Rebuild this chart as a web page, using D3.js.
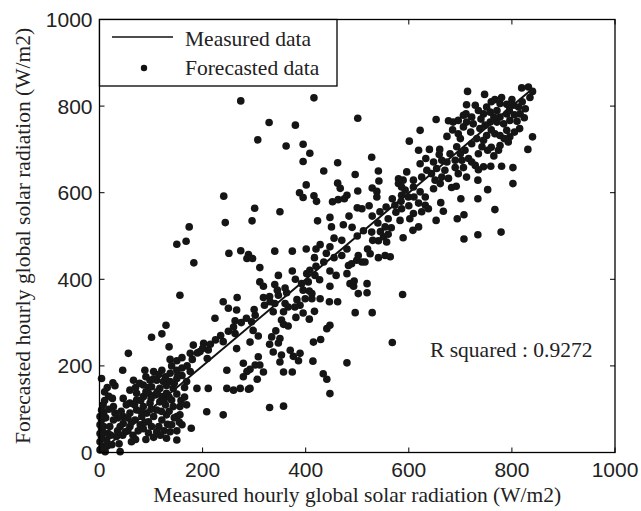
<!DOCTYPE html>
<html>
<head>
<meta charset="utf-8">
<script src="https://cdn.jsdelivr.net/npm/d3@7"></script>
<style>
  body { margin: 0; background: #fff; }
  svg { display: block; }
</style>
</head>
<body>
<svg id="chart"></svg>
<script>
// measured / forecasted hourly global solar radiation (W/m2)
var points = [
  [274,812],[416,819],[501,772],[329,762],[380,756],[307,722],[362,708],[395,712],[408,691],[395,672],
  [528,682],[462,669],[435,650],[541,650],[496,642],[542,627],[401,618],[462,622],[467,610],[388,600],
  [395,589],[416,593],[421,580],[501,604],[529,611],[538,603],[538,590],[580,632],[580,621],[568,586],
  [452,579],[463,584],[480,594],[475,586],[500,565],[509,563],[523,570],[529,546],[544,556],[556,567],
  [573,571],[241,592],[244,531],[301,564],[296,535],[350,556],[447,543],[423,535],[450,521],[473,526],
  [484,546],[512,512],[528,509],[541,489],[551,498],[560,504],[557,486],[554,521],[566,519],[174,521],
  [150,481],[168,488],[183,438],[156,363],[251,460],[274,466],[289,457],[286,448],[401,470],[428,480],
  [447,475],[267,358],
  [819,842],[832,844],[840,834],[714,834],[747,827],[767,815],[777,806],[790,804],[803,802],[813,798],
  [826,794],[816,782],[824,773],[815,748],[840,729],[831,700],[712,803],[729,802],[751,798],[711,782],
  [706,779],[722,775],[745,782],[758,786],[771,790],[777,775],[790,782],[796,767],[784,759],[771,763],
  [758,763],[748,756],[738,748],[725,759],[712,763],[677,766],[686,763],[696,767],[706,752],[696,736],
  [674,730],[653,769],[622,744],[601,719],[767,736],[777,732],[790,744],[796,729],[793,717],[777,709],
  [774,698],[751,732],[745,721],[742,706],[753,698],[732,725],[722,713],[709,698],[693,706],[703,675],
  [716,679],[722,671],[729,663],[735,653],[712,636],[734,629],[753,607],[759,661],[780,661],[802,658],
  [802,621],[767,561],[779,509],[734,503],[707,493],[694,540],[707,549],[701,586],[734,586],[683,612],
  [692,615],[670,652],[674,671],[690,675],[690,658],[706,658],[696,644],[677,633],[664,636],[661,621],
  [648,609],[651,629],[644,644],[654,656],[664,675],[648,671],[640,700],[659,688],[633,679],[619,698],
  [622,667],[635,652],[625,636],[609,629],[596,648],[589,629],[609,613],[622,602],[632,590],[619,576],
  [632,571],[638,563],[625,556],[609,552],[602,540],[619,521],[608,513],[589,496],[653,536],[662,577],
  [667,557],[586,594],[586,563],[593,606],[599,590],[583,536],[586,613],
  [340,465],[374,465],[417,450],[311,427],[297,448],[347,409],[374,419],[402,413],[408,421],[418,409],
  [427,399],[405,394],[392,390],[447,419],[459,409],[447,384],[407,373],[412,367],[395,375],[311,394],
  [318,384],[340,388],[347,363],[318,358],[331,348],[340,344],[363,369],[360,344],[366,336],[383,353],
  [389,340],[399,355],[412,355],[428,355],[446,348],[462,348],[379,336],[395,322],[417,326],[407,308],
  [381,312],[357,325],[337,325],[353,306],[357,296],[366,292],[302,317],[295,302],[298,282],[342,281],
  [334,267],[350,263],[347,253],[330,250],[308,269],[292,255],[308,221],[302,202],[292,192],[311,202],
  [318,186],[306,169],[292,148],[337,232],[353,225],[350,209],[370,236],[376,222],[389,229],[386,212],
  [357,186],[374,186],[414,211],[434,182],[441,169],[447,136],[330,104],[357,107],[415,255],[429,261],
  [441,286],[447,294],[480,207],[496,323],[529,323],[502,367],[519,369],[519,390],[568,254],[588,365],
  [480,413],[486,390],[493,384],[494,396],[483,432],[489,436],[499,444],[509,440],[515,440],[502,455],
  [525,459],[541,450],[554,455],[564,452],
  [240,348],[250,333],[266,329],[224,310],[263,304],[263,275],[240,256],[266,240],[129,294],[121,274],
  [101,266],[135,244],[56,229],[182,248],[202,252],[195,233],[211,237],[176,229],[160,219],[150,212],
  [137,215],[209,217],[45,190],[4,171],[26,161],[30,154],[66,167],[88,190],[105,187],[121,190],
  [137,183],[98,167],[85,156],[101,152],[111,167],[124,164],[117,148],[137,164],[150,171],[169,164],
  [176,187],[143,148],[59,144],[72,137],[46,125],[59,114],[72,121],[85,129],[95,137],[108,133],
  [121,129],[130,137],[140,121],[143,106],[117,117],[98,114],[85,106],[72,98],[59,91],[46,83],
  [30,91],[27,106],[7,110],[4,98],[1,83],[1,64],[1,44],[1,25],[1,6],[7,14],
  [14,29],[17,44],[20,60],[27,75],[40,60],[46,67],[50,48],[33,37],[59,60],[69,75],
  [82,83],[92,91],[79,64],[95,71],[105,83],[111,98],[101,60],[111,48],[121,75],[130,87],
  [150,83],[140,64],[137,48],[156,87],[160,64],[130,33],[150,29],[62,25],[40,2],[11,2],
  [156,106],[169,110],[189,148],[211,148],[178,56],[208,94],[240,87],[247,148],[247,190],[279,175],
  [279,206],[286,187],[260,144],[273,148],[289,146],
  // dense lower-left mass
  [4,10],[4,35],[4,55],[4,75],[8,45],[8,60],[8,90],[10,120],[12,80],[15,15],
  [18,100],[22,40],[24,18],[25,125],[35,50],[36,80],[38,20],[42,95],[45,40],[52,110],
  [55,80],[10,140],[15,150],[18,130],[70,150],[78,160],[90,175],[95,150],[105,170],[115,180],
  [128,175],[130,155],[145,160],[152,180],[160,178],[165,150],[80,120],[90,140],[100,125],[112,140],
  [125,120],[135,128],[150,135],[158,120],[165,128],[55,50],[65,40],[75,50],[85,55],[88,70],
  [95,45],[105,35],[115,60],[120,95],[125,50],[135,95],[145,80],[150,50],[155,70],[118,40],
  [90,30],[70,30],[80,95],[100,100],[62,70],[68,110],[128,110],[132,65],
  // upper-right cluster
  [760,810],[780,820],[800,815],[820,810],[835,820],[795,790],[805,780],[765,775],[735,790],[740,770],
  [760,745],[785,725],[805,740],[810,765],[720,740],[700,725],[685,745],[660,700],[680,690],[700,690],
  [735,690],[760,705],[765,685],[745,660],
  // band along the diagonal
  [420,430],[435,440],[455,450],[470,455],[480,470],[520,470],[530,490],[545,510],[560,540],[575,555],
  [585,580],[600,570],[610,590],[540,530],[500,500],[490,520],[470,490],[455,495],[440,460],[420,470],
  [380,400],[360,380],[345,375],[330,360],[320,340],[300,330],[285,310],[275,300],[260,290],[250,280],
  [235,270],[225,260],[215,250],[200,240],[190,230],[180,215],[170,200],[160,195],[150,190],[140,200]
]
var measured = points.map(function(p) { return p[0] })
var forecasted = points.map(function(p) { return p[1] })

var xTicks = [0, 200, 400, 600, 800, 1000]
var yTicks = [0, 200, 400, 600, 800, 1000]
var legendLabels = ['Measured data', 'Forecasted data']
var xTitle = 'Measured hourly global solar radiation (W/m2)'
var yTitle = 'Forecasted hourly global solar radiation (W/m2)'
var rText = 'R squared : 0.9272'

var width = 641
var height = 511
var plotL = 99.5, plotR = 615, plotT = 19.5, plotB = 452.5
var serif = '"Liberation Serif", "Times New Roman", serif'
var sans = '"Liberation Sans", Arial, sans-serif'

var x = d3.scaleLinear().domain([0, 1000]).range([plotL, plotR])
var y = d3.scaleLinear().domain([0, 1000]).range([plotB, plotT])

var svg = d3.select('#chart')
    .attr('width', width)
    .attr('height', height)

svg.append('rect').attr('width', width).attr('height', height).attr('fill', '#fff')

// ticks inward on all four sides
var tickLen = 5
var axes = svg.append('g').attr('stroke', '#000').attr('stroke-width', 1)
xTicks.forEach(function(t) {
    axes.append('line').attr('x1', x(t)).attr('x2', x(t)).attr('y1', plotB).attr('y2', plotB - tickLen)
    axes.append('line').attr('x1', x(t)).attr('x2', x(t)).attr('y1', plotT).attr('y2', plotT + tickLen)
})
yTicks.forEach(function(t) {
    axes.append('line').attr('x1', plotL).attr('x2', plotL + tickLen).attr('y1', y(t)).attr('y2', y(t))
    axes.append('line').attr('x1', plotR).attr('x2', plotR - tickLen).attr('y1', y(t)).attr('y2', y(t))
})

svg.append('g').selectAll('text')
    .data(xTicks)
    .enter().append('text')
    .attr('x', function(d) { return x(d) })
    .attr('y', plotB + 24)
    .attr('text-anchor', 'middle')
    .attr('font-family', sans)
    .attr('font-size', 21)
    .attr('fill', '#222')
    .text(function(d) { return d })

svg.append('g').selectAll('text')
    .data(yTicks)
    .enter().append('text')
    .attr('x', plotL - 7)
    .attr('y', function(d) { return y(d) + 7.5 })
    .attr('text-anchor', 'end')
    .attr('font-family', sans)
    .attr('font-size', 21)
    .attr('fill', '#222')
    .text(function(d) { return d })

// measured vs measured line
var ext = d3.extent(measured)
svg.append('line')
    .attr('x1', x(ext[0])).attr('y1', y(ext[0]))
    .attr('x2', x(ext[1])).attr('y2', y(ext[1]))
    .attr('stroke', '#111')
    .attr('stroke-width', 2)

svg.append('g').selectAll('circle')
    .data(points)
    .enter().append('circle')
    .attr('cx', function(d, i) { return x(measured[i]) })
    .attr('cy', function(d, i) { return y(forecasted[i]) })
    .attr('r', 3.8)
    .attr('fill', '#151515')

// box
svg.append('rect')
    .attr('x', plotL).attr('y', plotT)
    .attr('width', plotR - plotL).attr('height', plotB - plotT)
    .attr('fill', 'none').attr('stroke', '#000').attr('stroke-width', 1.3)

// legend
var lg = svg.append('g')
lg.append('rect')
    .attr('x', plotL).attr('y', plotT)
    .attr('width', 237.5).attr('height', 66.5)
    .attr('fill', '#fff').attr('stroke', '#000').attr('stroke-width', 1.3)
lg.append('line')
    .attr('x1', 112).attr('x2', 173).attr('y1', 37).attr('y2', 37)
    .attr('stroke', '#111').attr('stroke-width', 1.3)
lg.append('circle').attr('cx', 144).attr('cy', 68).attr('r', 3.2).attr('fill', '#111')
lg.selectAll('text')
    .data(legendLabels)
    .enter().append('text')
    .attr('x', 185)
    .attr('y', function(d, i) { return 46 + i * 29 })
    .attr('font-family', serif)
    .attr('font-size', 21.5)
    .attr('fill', '#222')
    .text(function(d) { return d })

svg.append('text')
    .attr('x', 430).attr('y', 357)
    .attr('font-family', serif).attr('font-size', 21.5).attr('fill', '#222')
    .text(rText)

svg.append('text')
    .attr('x', (plotL + plotR) / 2).attr('y', 502)
    .attr('text-anchor', 'middle')
    .attr('font-family', serif).attr('font-size', 21.5).attr('fill', '#222')
    .text(xTitle)

svg.append('text')
    .attr('transform', 'translate(30,' + ((plotT + plotB) / 2) + ') rotate(-90)')
    .attr('text-anchor', 'middle')
    .attr('font-family', serif).attr('font-size', 21.5).attr('fill', '#222')
    .text(yTitle)
</script>
</body>
</html>
